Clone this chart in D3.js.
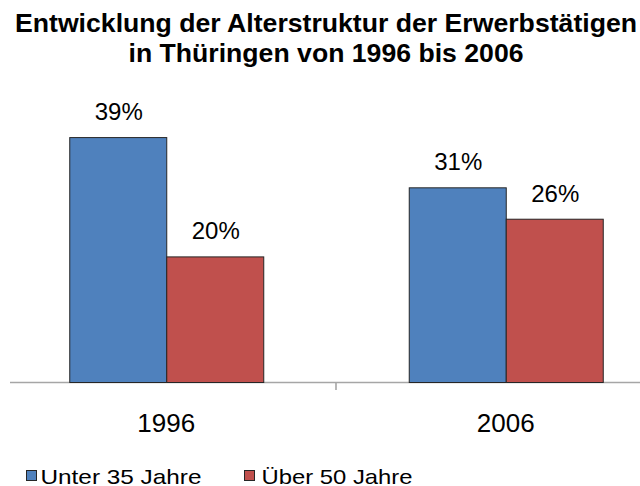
<!DOCTYPE html>
<html>
<head>
<meta charset="utf-8">
<script src="https://cdn.jsdelivr.net/npm/d3@7"></script>
<style>
  html, body { margin: 0; padding: 0; background: #fff; }
  svg { display: block; font-family: "Liberation Sans", Arial, sans-serif; }
</style>
</head>
<body>
<svg id="chart" width="640" height="486"></svg>
<script>
const titleLines = ["Entwicklung der Alterstruktur der Erwerbstätigen", "in Thüringen von 1996 bis 2006"];
const categories = ["1996", "2006"];
const seriesNames = ["Unter 35 Jahre", "Über 50 Jahre"];
const under35 = [39, 31];
const over50 = [20, 26];
const valueLabels = [["39%", "20%"], ["31%", "26%"]];
const colors = ["#4F81BD", "#C0504D"];

const svg = d3.select("#chart");

// Title
const titleLayout = [{y: 31.5, len: 622}, {y: 62, len: 395}];
svg.selectAll("text.title").data(titleLines).join("text")
  .attr("class", "title")
  .attr("x", 326)
  .attr("y", (d, i) => titleLayout[i].y)
  .attr("text-anchor", "middle")
  .attr("font-size", 26)
  .attr("font-weight", "bold")
  .attr("fill", "#000")
  .attr("textLength", (d, i) => titleLayout[i].len)
  .attr("lengthAdjust", "spacingAndGlyphs")
  .text(d => d);

// Scales
const x = d3.scaleBand().domain(categories).range([-3.5, 675.5]).paddingInner(0).paddingOuter(0);
const xs = d3.scaleBand().domain(seriesNames).range([0, x.bandwidth()]).paddingInner(0).paddingOuter(0.75);
const y = d3.scaleLinear().domain([0, 40]).range([382, 130.8]);

const data = categories.map((c, i) => ({
  cat: c,
  values: [
    {s: seriesNames[0], v: under35[i], label: valueLabels[i][0], color: colors[0]},
    {s: seriesNames[1], v: over50[i], label: valueLabels[i][1], color: colors[1]}
  ]
}));

// Axis line
const axisY = y(0);
svg.append("line")
  .attr("x1", 10).attr("x2", 640)
  .attr("y1", axisY + 0.5).attr("y2", axisY + 0.5)
  .attr("stroke", "#a6a6a6").attr("stroke-width", 1.6);

// Tick between categories
const tickX = x(categories[1]);
svg.append("line")
  .attr("x1", tickX).attr("x2", tickX)
  .attr("y1", axisY).attr("y2", axisY + 8)
  .attr("stroke", "#a6a6a6").attr("stroke-width", 1.6);

// Bars
const groups = svg.selectAll("g.cat").data(data).join("g")
  .attr("class", "cat")
  .attr("transform", d => `translate(${x(d.cat)},0)`);

groups.selectAll("rect").data(d => d.values).join("rect")
  .attr("x", d => xs(d.s) + 0.5)
  .attr("y", d => y(d.v) + 0.5)
  .attr("width", xs.bandwidth())
  .attr("height", d => y(0) - y(d.v))
  .attr("fill", d => d.color)
  .attr("stroke", "#262626")
  .attr("stroke-width", 1);

groups.selectAll("text.val").data(d => d.values).join("text")
  .attr("class", "val")
  .attr("x", d => xs(d.s) + xs.bandwidth() / 2 + 1)
  .attr("y", d => y(d.v) - 17)
  .attr("text-anchor", "middle")
  .attr("font-size", 24)
  .attr("fill", "#000")
  .text(d => d.label);

// Category labels
svg.selectAll("text.cat").data(categories).join("text")
  .attr("class", "cat")
  .attr("x", d => x(d) + x.bandwidth() / 2)
  .attr("y", 431.5)
  .attr("text-anchor", "middle")
  .attr("font-size", 26)
  .attr("fill", "#000")
  .text(d => d);

// Legend
const legendLayout = [{sx: 26, tx: 40.5, len: 161}, {sx: 244, tx: 261.5, len: 151}];
const leg = svg.selectAll("g.leg").data(seriesNames).join("g").attr("class", "leg");
leg.append("rect")
  .attr("x", (d, i) => legendLayout[i].sx + 0.5)
  .attr("y", 470.5)
  .attr("width", 10).attr("height", 10)
  .attr("fill", (d, i) => colors[i])
  .attr("stroke", "#262626").attr("stroke-width", 1);
leg.append("text")
  .attr("x", (d, i) => legendLayout[i].tx)
  .attr("y", 483.5)
  .attr("font-size", 21)
  .attr("fill", "#000")
  .attr("textLength", (d, i) => legendLayout[i].len)
  .attr("lengthAdjust", "spacingAndGlyphs")
  .text(d => d);
</script>
</body>
</html>
